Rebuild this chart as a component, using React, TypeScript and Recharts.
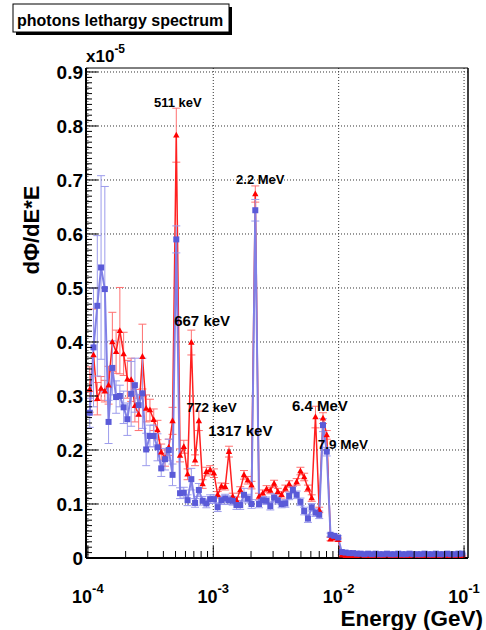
import { LineChart, Line, XAxis, YAxis, ErrorBar, ReferenceLine, ReferenceDot } from 'recharts'

const FONT = '"Liberation Sans", Arial, Helvetica, sans-serif'

// bin centres (GeV)
const energies = [
  1.035e-4, 1.109e-4, 1.189e-4, 1.274e-4, 1.365e-4, 1.462e-4, 1.567e-4, 1.679e-4, 1.799e-4, 1.928e-4,
  2.065e-4, 2.213e-4, 2.371e-4, 2.541e-4, 2.723e-4, 2.917e-4, 3.126e-4, 3.35e-4, 3.589e-4, 3.846e-4,
  4.121e-4, 4.416e-4, 4.732e-4, 5.07e-4, 5.433e-4, 5.821e-4, 6.237e-4, 6.683e-4, 7.161e-4, 7.674e-4,
  8.222e-4, 8.81e-4, 9.441e-4, 1.012e-3, 1.084e-3, 1.161e-3, 1.245e-3, 1.334e-3, 1.429e-3, 1.531e-3,
  1.641e-3, 1.758e-3, 1.884e-3, 2.018e-3, 2.163e-3, 2.317e-3, 2.483e-3, 2.661e-3, 2.851e-3, 3.055e-3,
  3.273e-3, 3.508e-3, 3.758e-3, 4.027e-3, 4.315e-3, 4.624e-3, 4.955e-3, 5.309e-3, 5.689e-3, 6.095e-3,
  6.531e-3, 6.998e-3, 7.499e-3, 8.035e-3, 8.61e-3, 9.226e-3, 9.886e-3, 1.059e-2, 1.135e-2, 1.216e-2,
  1.303e-2, 1.396e-2, 1.496e-2, 1.603e-2, 1.718e-2, 1.841e-2, 1.972e-2, 2.113e-2, 2.265e-2, 2.427e-2,
  2.6e-2, 2.786e-2, 2.985e-2, 3.199e-2, 3.428e-2, 3.673e-2, 3.936e-2, 4.217e-2, 4.519e-2, 4.842e-2,
  5.188e-2, 5.559e-2, 5.957e-2, 6.383e-2, 6.839e-2, 7.328e-2, 7.852e-2, 8.414e-2, 9.016e-2, 9.661e-2,
]

// dPhi/dE*E in units of 1e-5
const redValues = [
  0.312, 0.376, 0.295, 0.314, 0.309, 0.32, 0.4, 0.382, 0.421, 0.378,
  0.331, 0.33, 0.282, 0.266, 0.373, 0.277, 0.274, 0.256, 0.237, 0.196,
  0.185, 0.205, 0.254, 0.783, 0.19, 0.206, 0.155, 0.399, 0.181, 0.254,
  0.137, 0.16, 0.163, 0.157, 0.117, 0.133, 0.132, 0.197, 0.114, 0.107,
  0.126, 0.154, 0.144, 0.135, 0.674, 0.114, 0.12, 0.128, 0.125, 0.138,
  0.123, 0.117, 0.129, 0.137, 0.127, 0.141, 0.161, 0.15, 0.129, 0.111,
  0.261, 0.089, 0.259, 0.228, 0.035, 0.037, 0.034, 0.005, 0.004, 0.004,
  0.003, 0.004, 0.005, 0.003, 0.004, 0.004, 0.003, 0.004, 0.003, 0.005,
  0.004, 0.003, 0.004, 0.004, 0.003, 0.004, 0.005, 0.003, 0.004, 0.003,
  0.004, 0.004, 0.003, 0.004, 0.005, 0.003, 0.004, 0.004, 0.003, 0.004,
]
const redErrors = [
  0.042, 0.085, 0.03, 0.022, 0.02, 0.035, 0.055, 0.04, 0.08, 0.04,
  0.035, 0.04, 0.03, 0.03, 0.06, 0.025, 0.02, 0.02, 0.018, 0.015,
  0.015, 0.015, 0.025, 0.05, 0.012, 0.012, 0.01, 0.023, 0.01, 0.018,
  0.008, 0.008, 0.008, 0.008, 0.006, 0.006, 0.006, 0.01, 0.006, 0.006,
  0.006, 0.008, 0.007, 0.007, 0.015, 0.006, 0.006, 0.006, 0.006, 0.006,
  0.006, 0.006, 0.006, 0.006, 0.006, 0.006, 0.007, 0.007, 0.006, 0.006,
  0.02, 0.005, 0.01, 0.008, 0.003, 0.003, 0.003, 0.001, 0.001, 0.001,
  0.001, 0.001, 0.001, 0.001, 0.001, 0.001, 0.001, 0.001, 0.001, 0.001,
  0.001, 0.001, 0.001, 0.001, 0.001, 0.001, 0.001, 0.001, 0.001, 0.001,
  0.001, 0.001, 0.001, 0.001, 0.001, 0.001, 0.001, 0.001, 0.001, 0.001,
]
const blueValues = [
  0.269, 0.39, 0.467, 0.538, 0.498, 0.252, 0.352, 0.298, 0.3, 0.279,
  0.257, 0.304, 0.32, 0.283, 0.305, 0.201, 0.226, 0.226, 0.205, 0.166,
  0.183, 0.2, 0.154, 0.59, 0.12, 0.121, 0.107, 0.146, 0.102, 0.126,
  0.106, 0.101, 0.109, 0.109, 0.094, 0.107, 0.11, 0.107, 0.106, 0.098,
  0.098, 0.117, 0.11, 0.1, 0.644, 0.1, 0.107, 0.106, 0.096, 0.112,
  0.107, 0.1, 0.101, 0.115, 0.126, 0.117, 0.104, 0.087, 0.073, 0.094,
  0.084, 0.08, 0.246, 0.197, 0.043, 0.041, 0.038, 0.011, 0.01, 0.009,
  0.009, 0.008, 0.008, 0.007, 0.008, 0.007, 0.008, 0.007, 0.007, 0.008,
  0.007, 0.007, 0.008, 0.007, 0.007, 0.008, 0.007, 0.007, 0.007, 0.008,
  0.007, 0.007, 0.008, 0.007, 0.007, 0.008, 0.007, 0.007, 0.008, 0.008,
]
const blueErrors = [
  0.027, 0.11, 0.13, 0.17, 0.19, 0.04, 0.05, 0.03, 0.02, 0.03,
  0.03, 0.06, 0.05, 0.02, 0.065, 0.03, 0.02, 0.02, 0.025, 0.015,
  0.02, 0.02, 0.02, 0.025, 0.01, 0.01, 0.01, 0.02, 0.008, 0.012,
  0.008, 0.008, 0.008, 0.008, 0.008, 0.008, 0.008, 0.008, 0.008, 0.008,
  0.008, 0.012, 0.008, 0.008, 0.02, 0.007, 0.007, 0.007, 0.007, 0.007,
  0.007, 0.007, 0.007, 0.007, 0.007, 0.007, 0.007, 0.007, 0.007, 0.007,
  0.007, 0.007, 0.012, 0.008, 0.003, 0.003, 0.003, 0.001, 0.001, 0.001,
  0.001, 0.001, 0.001, 0.001, 0.001, 0.001, 0.001, 0.001, 0.001, 0.001,
  0.001, 0.001, 0.001, 0.001, 0.001, 0.001, 0.001, 0.001, 0.001, 0.001,
  0.001, 0.001, 0.001, 0.001, 0.001, 0.001, 0.001, 0.001, 0.001, 0.001,
]

// peak annotations, anchored at label centre (energy, value)
const peakLabels = [
  { text: '511 keV', e: 5.21e-4, v: 0.844, size: 13 },
  { text: '2.2 MeV', e: 2.37e-3, v: 0.702, size: 13 },
  { text: '667 keV', e: 8.15e-4, v: 0.439, size: 15 },
  { text: '772 keV', e: 9.69e-4, v: 0.28, size: 13.5 },
  { text: '1317 keV', e: 1.644e-3, v: 0.235, size: 15 },
  { text: '6.4 MeV', e: 7.08e-3, v: 0.283, size: 15 },
  { text: '7.9 MeV', e: 1.079e-2, v: 0.211, size: 13.5 },
]

const yMajor = [0, 0.1, 0.2, 0.3, 0.4, 0.5, 0.6, 0.7, 0.8, 0.9]
const xMajor = [1e-4, 1e-3, 1e-2, 1e-1]

const xMin = 9.66e-5
const xMax = 0.1075
const yMax = 0.9074

const PLOT_LEFT = 86
const PLOT_BOTTOM = 558

const data = energies.map((e, i) => ({
  e,
  red: redValues[i],
  redErr: redErrors[i],
  blue: blueValues[i],
  blueErr: blueErrors[i],
}))

const xTicks = xMajor.flatMap(d => (d === 1e-1 ? [d] : [1, 2, 3, 4, 5, 6, 7, 8, 9].map(m => m * d)))
const yTicks = Array.from({ length: 91 }, (_, i) => i / 100)

function YTick({ y, payload }: any) {
  const v = payload.value
  const major = Math.abs(v * 10 - Math.round(v * 10)) < 1e-6
  return (
    <g>
      <line x1={PLOT_LEFT} x2={PLOT_LEFT + (major ? 12 : 6)} y1={y} y2={y} stroke="#000" strokeWidth={1} />
      {major && (
        <text x={83} y={y + 7} textAnchor="end" fontSize={19} fontWeight="bold" fontFamily={FONT} fill="#000">
          {v === 0 ? '0' : v.toFixed(1)}
        </text>
      )}
    </g>
  )
}

function XTick({ x, payload }: any) {
  const v = payload.value
  const exp = Math.round(Math.log10(v))
  const major = Math.abs(Math.log10(v) - exp) < 1e-6
  return (
    <g>
      <line x1={x} x2={x} y1={PLOT_BOTTOM} y2={PLOT_BOTTOM - (major ? 12 : 7)} stroke="#000" strokeWidth={1} />
      {major && (
        <text x={x} y={603} textAnchor="middle" fontSize={18} fontWeight="bold" fontFamily={FONT} fill="#000">
          10<tspan dy={-10} fontSize={13}>{`${exp}`}</tspan>
        </text>
      )}
    </g>
  )
}

const renderTriangle = (props: any) => {
  const { cx, cy, index } = props
  if (cx == null || cy == null) return <g key={`t${index}`} />
  return <path key={`t${index}`} d={`M${cx},${cy - 3.5}L${cx + 3.2},${cy + 2.3}L${cx - 3.2},${cy + 2.3}Z`} fill="#ff0000" />
}

const renderSquare = (props: any) => {
  const { cx, cy, index } = props
  if (cx == null || cy == null) return <g key={`s${index}`} />
  return <rect key={`s${index}`} x={cx - 3} y={cy - 3} width={6} height={6} fill="#5a5ad8" />
}

export default function App() {
  return (
    <div style={{ position: 'absolute', left: 0, top: 0, width: 486, height: 630, background: '#fff' }}>
      <LineChart width={486} height={630} data={data} margin={{ top: 68, right: 18, bottom: 22, left: 26 }}>
        <XAxis
          dataKey="e"
          type="number"
          scale="log"
          domain={[xMin, xMax]}
          allowDataOverflow
          ticks={xTicks}
          interval={0}
          height={50}
          tickLine={false}
          axisLine={{ stroke: '#000', strokeWidth: 2 }}
          tick={<XTick />}
        />
        <YAxis
          type="number"
          domain={[0, yMax]}
          allowDataOverflow
          ticks={yTicks}
          interval={0}
          width={60}
          tickLine={false}
          axisLine={{ stroke: '#000', strokeWidth: 2 }}
          tick={<YTick />}
        />
        {yMajor.slice(1).map(v => (
          <ReferenceLine key={`gy${v}`} y={v} stroke="#333" strokeWidth={1} strokeDasharray="1 2" />
        ))}
        {xMajor.map(v => (
          <ReferenceLine key={`gx${v}`} x={v} stroke="#333" strokeWidth={1} strokeDasharray="1 2" />
        ))}
        <ReferenceLine x={xMax} stroke="#000" strokeWidth={1.5} />
        <ReferenceLine y={yMax} stroke="#000" strokeWidth={1} />
        <Line
          dataKey="red"
          type="linear"
          stroke="#ff2020"
          strokeWidth={1.5}
          dot={renderTriangle}
          activeDot={false}
          isAnimationActive={false}
        >
          <ErrorBar dataKey="redErr" width={4} stroke="#ff7070" strokeWidth={1} direction="y" isAnimationActive={false} />
        </Line>
        <Line
          dataKey="blue"
          type="linear"
          stroke="#8080e6"
          strokeWidth={2}
          dot={renderSquare}
          activeDot={false}
          isAnimationActive={false}
        >
          <ErrorBar dataKey="blueErr" width={4} stroke="#9c9cec" strokeWidth={1} direction="y" isAnimationActive={false} />
        </Line>
        {peakLabels.map(p => (
          <ReferenceDot
            key={p.text}
            x={p.e}
            y={p.v}
            r={0}
            fill="none"
            stroke="none"
            label={{ value: p.text, position: 'center', fontSize: p.size, fontWeight: 'bold', fill: '#000', fontFamily: FONT }}
          />
        ))}
      </LineChart>
      <svg width={486} height={630} style={{ position: 'absolute', left: 0, top: 0, pointerEvents: 'none' }}>
        <rect x={16} y={7} width={216} height={28} fill="#000" />
        <rect x={13} y={4} width={216} height={28} fill="#fff" stroke="#000" strokeWidth={1} />
        <text x={17} y={26} fontSize={16} fontWeight="bold" fontFamily={FONT} fill="#000">
          photons lethargy spectrum
        </text>
        <text x={86} y={62} fontSize={17} fontWeight="bold" fontFamily={FONT} fill="#000">
          x10<tspan dy={-9} fontSize={12}>-5</tspan>
        </text>
        <text
          transform="rotate(-90)"
          x={-230}
          y={39}
          textAnchor="middle"
          fontSize={22}
          fontWeight="bold"
          fontFamily={FONT}
          fill="#000"
        >
          dΦ/dE*E
        </text>
        <text x={483} y={626} textAnchor="end" fontSize={22.5} fontWeight="bold" fontFamily={FONT} fill="#000">
          Energy (GeV)
        </text>
      </svg>
    </div>
  )
}
